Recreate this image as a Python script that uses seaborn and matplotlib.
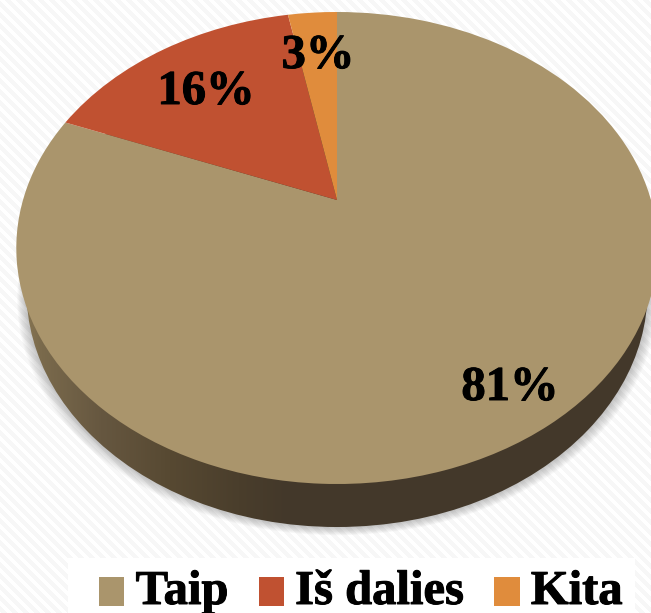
import numpy as np
import matplotlib
matplotlib.use('Agg')
import matplotlib.pyplot as plt
import matplotlib.patheffects as pe
from matplotlib.colors import LinearSegmentedColormap
from matplotlib.patches import Circle, Rectangle
from matplotlib.transforms import Transform
import seaborn as sns

# dane z wykresu
categories = ['Taip', 'Iš dalies', 'Kita']
values = [81, 16, 3]
colors = ['#AA956C', '#C05131', '#E08C3C']
label_xy = [(510, 388), (206, 92), (318, 56)]


# perspektywa: kolo jednostkowe -> elipsa w pikselach obrazka
class Perspective(Transform):
    input_dims = 2
    output_dims = 2
    is_affine = False

    def __init__(self, dy=0.0, grow=0.0):
        super().__init__()
        self.dy = dy
        self.grow = grow

    def transform_non_affine(self, values):
        values = np.asarray(values, dtype=float)
        u, v = values[:, 0], values[:, 1]
        d = 0.2034 * v + 1
        x = 337 + (314 + self.grow) * u / d
        y = (-185.56 * v + 200) / d + self.dy
        return np.column_stack([x, y])


sns.set_theme(style='white')
plt.rcParams['font.family'] = ['Liberation Serif', 'DejaVu Serif']
palette = sns.color_palette(colors)
bold = [pe.withStroke(linewidth=0.7, foreground='black')]

fig = plt.figure(figsize=(6.51, 6.13), dpi=100)
ax = fig.add_axes([0, 0, 1, 1])

# tlo w ukosne paski
yy, xx = np.mgrid[0:613, 0:651]
stripes = np.where(((xx - yy) % 11) < 5, 1.0, 0.965)
ax.imshow(stripes, cmap='gray', vmin=0, vmax=1, extent=(0, 651, 613, 0), zorder=0, aspect='auto')

# cien pod kolem
for i in range(10):
    ax.add_patch(Circle((0, 0), 1, facecolor='#555555', edgecolor='none', alpha=0.035, zorder=1,
                        transform=Perspective(dy=44 + i * 0.8, grow=-9 + i * 0.9) + ax.transData))

# bok kola z gradientem
side_cmap = LinearSegmentedColormap.from_list(
    'side', [(0, '#8A7854'), (0.07, '#7A6A4C'), (0.27, '#665740'), (0.5, '#574932'),
             (0.73, '#4A3E2C'), (0.9, '#43382A'), (1, '#43382A')])
side = ax.imshow(np.linspace(0, 1, 300)[None, :], cmap=side_cmap, extent=(20, 320, 613, 0), zorder=2, aspect='auto')
side_right = ax.imshow([[1.0]], cmap=side_cmap, vmin=0, vmax=1, extent=(320, 651, 613, 0), zorder=2, aspect='auto')
side_shape = Circle((0, 0), 1, facecolor='none', edgecolor='none',
                    transform=Perspective(dy=43, grow=-10) + ax.transData)
ax.add_patch(side_shape)
side.set_clip_path(side_shape)
side_right.set_clip_path(side_shape)

wedges, _ = ax.pie(values, colors=palette, startangle=90, counterclock=False,
                   wedgeprops={'linewidth': 0, 'zorder': 3})
for w in wedges:
    w.set_transform(Perspective() + ax.transData)

for v, (x, y) in zip(values, label_xy):
    ax.text(x, y, f'{v}%', fontsize=35, fontweight='bold', color='black',
            ha='center', va='center', zorder=5, path_effects=bold)

# legenda
ax.add_patch(Rectangle((68, 558), 567, 55, facecolor='white', edgecolor='none', zorder=4))
leg = ax.legend(wedges, categories, ncol=3, frameon=False,
                prop={'weight': 'bold', 'size': 35}, labelcolor='black',
                loc='center', bbox_to_anchor=(361, 592), bbox_transform=ax.transData,
                handlelength=0.52, handleheight=0.52, handletextpad=0.23, columnspacing=0.62,
                borderpad=0, borderaxespad=0)
leg.set_zorder(6)
for t in leg.get_texts():
    t.set_path_effects(bold)
for h in leg.legend_handles:
    h.set_y(h.get_y() - 3.4)

ax.set_aspect('auto')
ax.set_xlim(0, 651)
ax.set_ylim(613, 0)
ax.axis('off')

fig.savefig('out.png', dpi=100)
